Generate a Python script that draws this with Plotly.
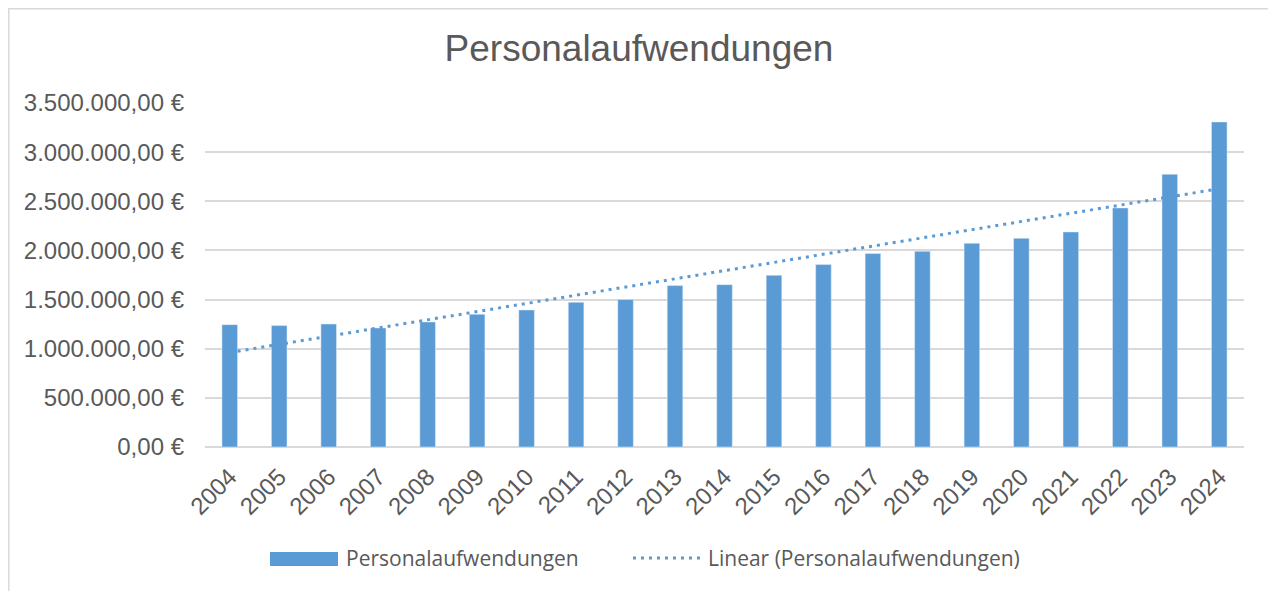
import numpy as np
import plotly.graph_objects as go

years = [str(y) for y in range(2004, 2025)]
personal = [1245000, 1235000, 1251000, 1211000, 1272000, 1350000, 1394000,
            1472000, 1500000, 1642000, 1652000, 1747000, 1856000, 1968000,
            1991000, 2073000, 2123000, 2188000, 2432000, 2775000, 3307000]
series_name = "Personalaufwendungen"
trend_name = "Linear (Personalaufwendungen)"
title_text = "Personalaufwendungen"

# linear trendline (least squares) like Excel
idx = np.arange(len(personal))
slope, intercept = np.polyfit(idx, personal, 1)
trend = (slope * idx + intercept).tolist()

BLUE = "#5B9BD5"
GREY_TXT = "#595959"
GRID = "#D9D9D9"

OFF = 8  # page body margin
W, H = 1276 - OFF, 591 - OFF
# plot area in screen pixels: x 205..1244, y 102.7..447
L = 205 - OFF
R = W - (1244 - OFF)
T = 103 - OFF
B = H - (447 - OFF)
PW = W - L - R
PH = H - T - B

def px(x):
    return (x - OFF - L) / PW

def py(y):
    return (H - B - (y - OFF)) / PH

fig = go.Figure()
fig.add_trace(go.Bar(x=years, y=personal, name=series_name, marker_color=BLUE,
                     showlegend=False))
fig.add_trace(go.Scatter(x=years, y=trend, name=trend_name, mode="lines",
                         line=dict(color=BLUE, width=3, dash="3px,5px"),
                         showlegend=False))

shapes = [
    dict(type="rect", xref="paper", yref="paper", x0=px(8.8), x1=px(1273.5),
         y0=py(620), y1=py(8.8), line=dict(color=GRID, width=1.5),
         fillcolor="rgba(0,0,0,0)", layer="below"),
    dict(type="rect", xref="paper", yref="paper", x0=px(270), x1=px(338),
         y0=py(566), y1=py(552), line=dict(width=0), fillcolor=BLUE),
    dict(type="line", xref="paper", yref="paper", x0=px(633), x1=px(700),
         y0=py(558), y1=py(558), line=dict(color=BLUE, width=3, dash="3px,5px")),
]
annotations = [
    dict(text=series_name, xref="paper", yref="paper", x=px(344), y=py(558),
         xanchor="left", yanchor="middle", showarrow=False,
         font=dict(family="Open Sans", size=21, color=GREY_TXT)),
    dict(text=trend_name, xref="paper", yref="paper", x=px(706), y=py(558),
         xanchor="left", yanchor="middle", showarrow=False,
         font=dict(family="Open Sans", size=21, color=GREY_TXT)),
]

fig.update_layout(
    width=W, height=H,
    margin=dict(l=L, r=R, t=T, b=B, autoexpand=False),
    paper_bgcolor="white", plot_bgcolor="white",
    separators=",.",
    title=dict(text=title_text, x=(639 - OFF) / W, xref="container", xanchor="center",
               y=1 - (48 - OFF) / H, yref="container", yanchor="middle",
               font=dict(family="Liberation Sans, Arial", size=37, color=GREY_TXT)),
    bargap=0.685,
    shapes=shapes,
    annotations=annotations,
    showlegend=False,
)
fig.update_xaxes(type="category", tickangle=-45, showgrid=False, showline=False,
                 ticks="", ticklabelstandoff=10,
                 tickfont=dict(family="Liberation Sans, Arial", size=24, color=GREY_TXT))
fig.update_yaxes(range=[0, 3500000], dtick=500000, tickformat=",.2f",
                 ticksuffix=" €", showgrid=True, gridcolor=GRID, gridwidth=1.5,
                 zeroline=True, zerolinecolor=GRID, zerolinewidth=1.5,
                 showline=False, ticks="", ticklabelstandoff=20,
                 tickfont=dict(family="Liberation Sans, Arial", size=24, color=GREY_TXT))

fig.write_html("out.html")
